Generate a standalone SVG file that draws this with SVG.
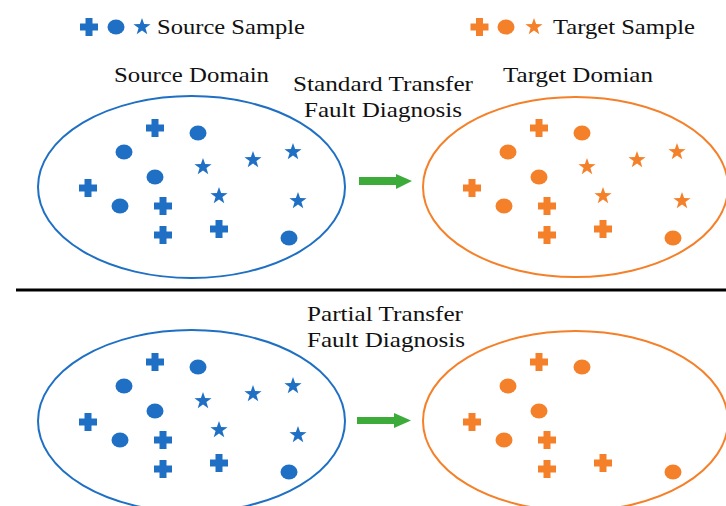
<svg xmlns="http://www.w3.org/2000/svg" xmlns:xlink="http://www.w3.org/1999/xlink" width="726" height="506" viewBox="0 0 726 506">
  <style>
    .lbl { font-family: "Liberation Serif", "Times New Roman", serif; font-size: 21px; fill: #111; }
    .src { fill: #1f70c4; }
    .tgt { fill: #f5802a; }
    .dom-src { fill: none; stroke: #1f70c4; stroke-width: 2; }
    .dom-tgt { fill: none; stroke: #f5802a; stroke-width: 2; }
    .arrow { fill: #3cab3a; }
  </style>
  <defs>
    <path id="cross" d="M-3.5,-9 H3.5 V-3.5 H9 V3.5 H3.5 V9 H-3.5 V3.5 H-9 V-3.5 H-3.5 Z"/>
    <ellipse id="dot" cx="0" cy="0" rx="8.5" ry="7.5"/>
    <path id="star" d="M0,-9 L2.12,-2.91 L8.56,-2.78 L3.42,1.11 L5.29,7.28 L0,3.6 L-5.29,7.28 L-3.42,1.11 L-8.56,-2.78 L-2.12,-2.91 Z"/>
    <!-- full class set: crosses, dots, stars -->
    <g id="samples-full">
      <use xlink:href="#cross" x="155" y="128"/>
      <use xlink:href="#dot" x="198" y="133"/>
      <use xlink:href="#dot" x="124" y="152"/>
      <use xlink:href="#star" x="203" y="167"/>
      <use xlink:href="#star" x="253" y="160"/>
      <use xlink:href="#star" x="293" y="152"/>
      <use xlink:href="#dot" x="155" y="177"/>
      <use xlink:href="#cross" x="88" y="188"/>
      <use xlink:href="#star" x="219" y="196"/>
      <use xlink:href="#star" x="298" y="201"/>
      <use xlink:href="#dot" x="120" y="206"/>
      <use xlink:href="#cross" x="163" y="206"/>
      <use xlink:href="#cross" x="163" y="235"/>
      <use xlink:href="#cross" x="219" y="229"/>
      <use xlink:href="#dot" x="289" y="238"/>
    </g>
    <!-- partial class set: crosses and dots only -->
    <g id="samples-partial">
      <use xlink:href="#cross" x="155" y="128"/>
      <use xlink:href="#dot" x="198" y="133"/>
      <use xlink:href="#dot" x="124" y="152"/>
      <use xlink:href="#dot" x="155" y="177"/>
      <use xlink:href="#cross" x="88" y="188"/>
      <use xlink:href="#dot" x="120" y="206"/>
      <use xlink:href="#cross" x="163" y="206"/>
      <use xlink:href="#cross" x="163" y="235"/>
      <use xlink:href="#cross" x="219" y="229"/>
      <use xlink:href="#dot" x="289" y="238"/>
    </g>
  </defs>

  <rect width="726" height="506" fill="#fff"/>

  <!-- legend -->
  <g id="legend">
    <g class="src">
      <use xlink:href="#cross" x="89" y="27"/>
      <use xlink:href="#dot" x="116" y="27"/>
      <use xlink:href="#star" x="142" y="27"/>
    </g>
    <text class="lbl" x="157" y="34" textLength="148" lengthAdjust="spacingAndGlyphs">Source Sample</text>
    <g class="tgt">
      <use xlink:href="#cross" x="479.5" y="27"/>
      <use xlink:href="#dot" x="506" y="27"/>
      <use xlink:href="#star" x="534" y="27"/>
    </g>
    <text class="lbl" x="553" y="34" textLength="142" lengthAdjust="spacingAndGlyphs">Target Sample</text>
  </g>

  <!-- standard transfer: titles -->
  <text class="lbl" x="114" y="82" textLength="155" lengthAdjust="spacingAndGlyphs">Source Domain</text>
  <text class="lbl" x="503" y="82" textLength="150" lengthAdjust="spacingAndGlyphs">Target Domian</text>
  <text class="lbl" x="293" y="91" textLength="180" lengthAdjust="spacingAndGlyphs">Standard Transfer</text>
  <text class="lbl" x="304" y="117" textLength="158" lengthAdjust="spacingAndGlyphs">Fault Diagnosis</text>

  <!-- standard transfer: domains -->
  <g id="source-domain-standard">
    <ellipse class="dom-src" cx="191.5" cy="187" rx="153.5" ry="91"/>
    <use class="src" xlink:href="#samples-full"/>
  </g>
  <g id="target-domain-standard">
    <ellipse class="dom-tgt" cx="575.5" cy="187" rx="152.5" ry="90"/>
    <use class="tgt" xlink:href="#samples-full" x="384"/>
  </g>

  <!-- divider -->
  <line x1="16" y1="290" x2="726" y2="290" stroke="#000" stroke-width="3"/>

  <!-- partial transfer: title -->
  <text class="lbl" x="307" y="321" textLength="156" lengthAdjust="spacingAndGlyphs">Partial Transfer</text>
  <text class="lbl" x="307" y="347" textLength="158" lengthAdjust="spacingAndGlyphs">Fault Diagnosis</text>

  <!-- partial transfer: domains -->
  <g id="source-domain-partial">
    <ellipse class="dom-src" cx="191.5" cy="421" rx="153.5" ry="91"/>
    <use class="src" xlink:href="#samples-full" y="234"/>
  </g>
  <g id="target-domain-partial">
    <ellipse class="dom-tgt" cx="575.5" cy="421" rx="152.5" ry="90"/>
    <use class="tgt" xlink:href="#samples-partial" x="384" y="234"/>
  </g>

  <!-- transfer arrows -->
  <g id="connectors" class="arrow">
    <path d="M359,177 H396 V174 L412,181 L396,189 V185 H359 Z"/>
    <path d="M357,417 H394 V413 L411,420.5 L394,428 V424 H357 Z"/>
  </g>
</svg>
